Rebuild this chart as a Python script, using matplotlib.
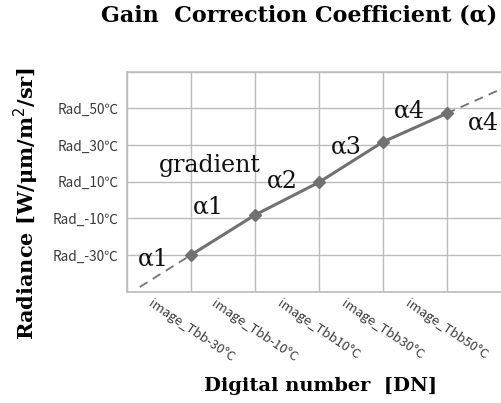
import matplotlib
matplotlib.use("Agg")
import matplotlib.pyplot as plt
import numpy as np

# ---- data ----
x_labels = ["image_Tbb-30°C", "image_Tbb-10°C", "image_Tbb10°C", "image_Tbb30°C", "image_Tbb50°C"]
y_labels = ["Rad_-30℃", "Rad_-10℃", "Rad_10℃", "Rad_30℃", "Rad_50℃"]
x_pos = [1, 2, 3, 4, 5]
y_vals = [1.0, 2.09, 2.98, 4.08, 4.86]

annot_text = ["α1", "gradient", "α1", "α2", "α3", "α4", "α4"]
annot_x = [0.41, 1.30, 1.28, 2.43, 3.43, 4.42, 5.57]
annot_y = [0.72, 3.26, 2.14, 2.85, 3.78, 4.76, 4.41]

line_col = "#717171"
grid_col = "#bcbcbc"

fig = plt.figure(figsize=(5.01, 4.03), dpi=100)
ax = fig.add_axes([0.2535, 0.2762, 0.7655, 0.546])

ax.set_xlim(0, 6)
ax.set_ylim(0, 6)
ax.set_xticks(range(0, 7))
ax.set_yticks(range(0, 7))
ax.grid(True, color=grid_col, lw=1.0)
ax.set_axisbelow(True)
for s in ax.spines.values():
    s.set_color(grid_col)
    s.set_linewidth(1.2)
ax.tick_params(length=0)

# extrapolations (dashed) using first and last segment slopes
s0 = (y_vals[1] - y_vals[0]) / (x_pos[1] - x_pos[0])
s1 = (y_vals[-1] - y_vals[-2]) / (x_pos[-1] - x_pos[-2])
xl = np.array([0.2, x_pos[0]])
ax.plot(xl, y_vals[0] + s0 * (xl - x_pos[0]), ls=(0, (5, 3.5)), color=line_col, lw=1.3)
xr = np.array([x_pos[-1], 6.0])
ax.plot(xr, y_vals[-1] + s1 * (xr - x_pos[-1]), ls=(0, (5, 3.5)), color=line_col, lw=1.3)

ax.plot(x_pos, y_vals, color=line_col, lw=2.2, marker="D", ms=6, mec=line_col, mfc=line_col)

# tick labels
ax.set_yticklabels([""] + y_labels + [""], family=["Noto Sans CJK JP", "DejaVu Sans"],
                   fontsize=9.8, color="#3a3a3a")
ax.tick_params(axis="y", pad=6)
ax.set_xticklabels([""] + x_labels + [""])
for lbl in ax.get_xticklabels():
    lbl.set_rotation(-34)
    lbl.set_ha("center")
    lbl.set_va("top")
    lbl.set_fontsize(9.4)
    lbl.set_family(["Noto Sans CJK JP", "DejaVu Sans"])
    lbl.set_color("#3a3a3a")
ax.tick_params(axis="x", pad=4)

for t, xx, yy in zip(annot_text, annot_x, annot_y):
    ax.text(xx, yy, t, family="DejaVu Serif", fontsize=17, ha="center", va="baseline", color="#111111")

fig.text(0.597, 0.962, "Gain  Correction Coefficient (α)", family="DejaVu Serif",
         weight="bold", fontsize=16, ha="center", va="center")
fig.text(0.64, 0.042, "Digital number  [DN]", family="DejaVu Serif",
         weight="bold", fontsize=14, ha="center", va="center")
fig.text(0.052, 0.494, "Radiance [W/μm/m$^2$/sr]", family="DejaVu Serif",
         weight="bold", fontsize=15, ha="center", va="center", rotation=90)

fig.savefig("out.png", dpi=100)
